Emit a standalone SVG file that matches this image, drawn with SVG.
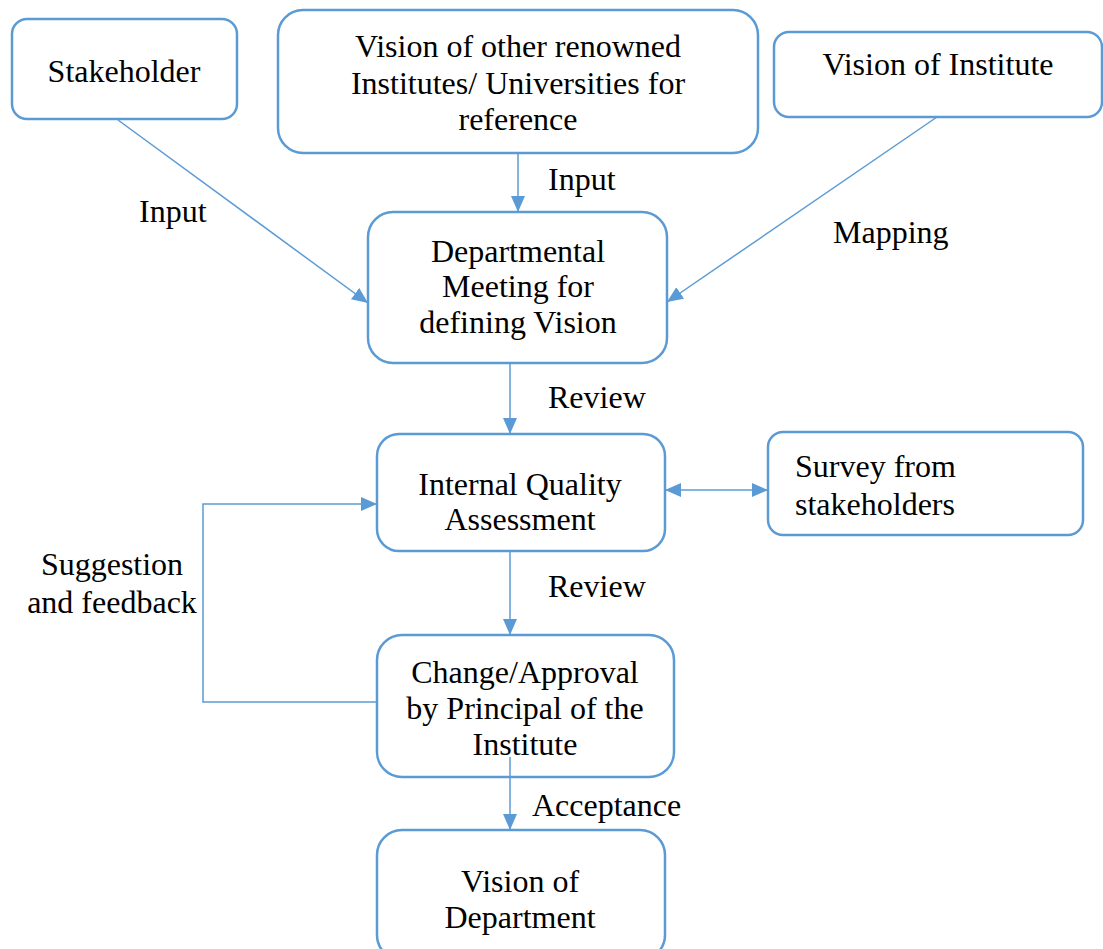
<svg xmlns="http://www.w3.org/2000/svg" width="1103" height="949" viewBox="0 0 1103 949">
  <style>
    .box { fill: #ffffff; stroke: #5B9BD5; stroke-width: 2.5; }
    .edge { fill: none; stroke: #5B9BD5; stroke-width: 1.5; }
    text { font-family: "Liberation Serif", "Times New Roman", serif; font-size: 32px; fill: #000000; }
    .c { text-anchor: middle; }
  </style>
  <defs>
    <marker id="arrow" viewBox="0 0 16 14" refX="16" refY="7" markerWidth="16" markerHeight="14" markerUnits="userSpaceOnUse" orient="auto-start-reverse">
      <path d="M0,0 L16,7 L0,14 Z" fill="#5B9BD5"/>
    </marker>
  </defs>
  <rect width="1103" height="949" fill="#ffffff"/>

  <!-- nodes -->
  <g id="stakeholder">
    <rect class="box" x="12" y="19" width="225" height="100" rx="15"/>
    <text class="c" x="124" y="82">Stakeholder</text>
  </g>
  <g id="other-institutes">
    <rect class="box" x="278" y="10" width="480" height="143" rx="25"/>
    <text class="c" x="518" y="57">Vision of other renowned</text>
    <text class="c" x="518" y="94">Institutes/ Universities for</text>
    <text class="c" x="518" y="130">reference</text>
  </g>
  <g id="vision-institute">
    <rect class="box" x="774" y="32" width="328" height="85" rx="15"/>
    <text class="c" x="938" y="75">Vision of Institute</text>
  </g>
  <g id="dept-meeting">
    <rect class="box" x="368" y="212" width="299" height="151" rx="25"/>
    <text class="c" x="518" y="262">Departmental</text>
    <text class="c" x="518" y="297">Meeting for</text>
    <text class="c" x="518" y="333">defining Vision</text>
  </g>
  <g id="iqa">
    <rect class="box" x="377" y="434" width="288" height="117" rx="22"/>
    <text class="c" x="520" y="495">Internal Quality</text>
    <text class="c" x="520" y="530">Assessment</text>
  </g>
  <g id="survey">
    <rect class="box" x="768" y="432" width="315" height="103" rx="15"/>
    <text x="795" y="477">Survey from</text>
    <text x="795" y="515">stakeholders</text>
  </g>
  <g id="approval">
    <rect class="box" x="377" y="635" width="297" height="142" rx="25"/>
    <text class="c" x="525" y="683">Change/Approval</text>
    <text class="c" x="525" y="719">by Principal of the</text>
    <text class="c" x="525" y="755">Institute</text>
  </g>
  <g id="vision-dept">
    <rect class="box" x="377" y="830" width="288" height="130" rx="25"/>
    <text class="c" x="520" y="892">Vision of</text>
    <text class="c" x="520" y="928">Department</text>
  </g>

  <!-- connectors -->
  <g id="connectors">
    <line class="edge" x1="118" y1="120" x2="368" y2="303" marker-end="url(#arrow)"/>
    <line class="edge" x1="518" y1="153" x2="518" y2="212" marker-end="url(#arrow)"/>
    <line class="edge" x1="937" y1="117" x2="667" y2="302" marker-end="url(#arrow)"/>
    <line class="edge" x1="510" y1="363" x2="510" y2="434" marker-end="url(#arrow)"/>
    <line class="edge" x1="665" y1="490" x2="768" y2="490" marker-start="url(#arrow)" marker-end="url(#arrow)"/>
    <line class="edge" x1="510" y1="551" x2="510" y2="635" marker-end="url(#arrow)"/>
    <polyline class="edge" points="377,702 203,702 203,504 377,504" marker-end="url(#arrow)"/>
    <line class="edge" x1="510" y1="757" x2="510" y2="830" marker-end="url(#arrow)"/>
  </g>

  <!-- connector labels -->
  <g id="labels">
    <text x="139" y="222">Input</text>
    <text x="548" y="190">Input</text>
    <text x="833" y="243">Mapping</text>
    <text x="548" y="408">Review</text>
    <text x="548" y="597">Review</text>
    <text x="532" y="816">Acceptance</text>
    <text class="c" x="112" y="575">Suggestion</text>
    <text class="c" x="112" y="613">and feedback</text>
  </g>
</svg>
